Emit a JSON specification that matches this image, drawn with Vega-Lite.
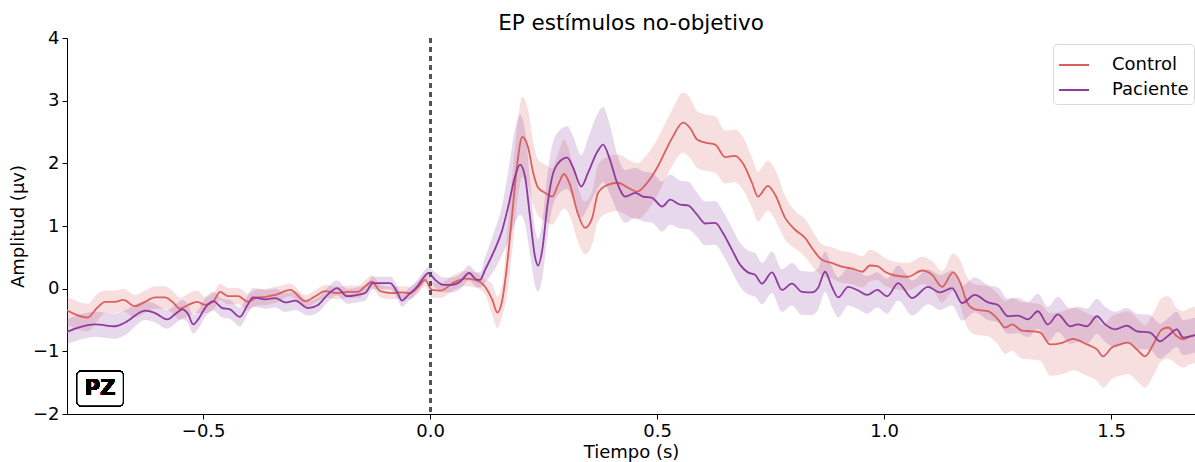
{
"$schema": "https://vega.github.io/schema/vega-lite/v6.json",
"width": 1128, "height": 376,
"autosize": {"type": "none"},
"padding": {"left": 67, "top": 38, "right": 0, "bottom": 48},
"title": {"text": "EP estímulos no-objetivo", "fontSize": 21.5, "fontWeight": "normal", "font": "DejaVu Sans", "color": "#000000", "offset": -5, "anchor": "middle"},
"config": {
 "view": {"stroke": null},
 "axis": {"domainColor": "#000000", "tickColor": "#000000", "labelColor": "#000000", "titleColor": "#000000", "labelFont": "DejaVu Sans", "titleFont": "DejaVu Sans", "labelFontSize": 18, "titleFontSize": 18, "titleFontWeight": "normal", "tickSize": 5, "grid": false, "domainWidth": 1, "tickWidth": 1, "labelPadding": 3}
},
"datasets": {"eeg": [
{"g":"Control","t":-0.804,"m":-0.33,"lo":-0.55,"hi":-0.11},
{"g":"Control","t":-0.782,"m":-0.41,"lo":-0.63,"hi":-0.19},
{"g":"Control","t":-0.755,"m":-0.46,"lo":-0.68,"hi":-0.24},
{"g":"Control","t":-0.733,"m":-0.30,"lo":-0.52,"hi":-0.08},
{"g":"Control","t":-0.716,"m":-0.21,"lo":-0.39,"hi":-0.03},
{"g":"Control","t":-0.694,"m":-0.21,"lo":-0.39,"hi":-0.03},
{"g":"Control","t":-0.676,"m":-0.18,"lo":-0.36,"hi":0.00},
{"g":"Control","t":-0.650,"m":-0.28,"lo":-0.46,"hi":-0.10},
{"g":"Control","t":-0.628,"m":-0.21,"lo":-0.39,"hi":-0.03},
{"g":"Control","t":-0.606,"m":-0.14,"lo":-0.32,"hi":0.04},
{"g":"Control","t":-0.584,"m":-0.14,"lo":-0.32,"hi":0.04},
{"g":"Control","t":-0.568,"m":-0.21,"lo":-0.39,"hi":-0.03},
{"g":"Control","t":-0.551,"m":-0.32,"lo":-0.50,"hi":-0.14},
{"g":"Control","t":-0.533,"m":-0.26,"lo":-0.44,"hi":-0.08},
{"g":"Control","t":-0.513,"m":-0.21,"lo":-0.39,"hi":-0.03},
{"g":"Control","t":-0.496,"m":-0.26,"lo":-0.39,"hi":-0.13},
{"g":"Control","t":-0.478,"m":-0.21,"lo":-0.34,"hi":-0.08},
{"g":"Control","t":-0.463,"m":-0.05,"lo":-0.18,"hi":0.08},
{"g":"Control","t":-0.445,"m":-0.12,"lo":-0.25,"hi":0.01},
{"g":"Control","t":-0.423,"m":-0.12,"lo":-0.25,"hi":0.01},
{"g":"Control","t":-0.401,"m":-0.21,"lo":-0.34,"hi":-0.08},
{"g":"Control","t":-0.381,"m":-0.14,"lo":-0.27,"hi":-0.01},
{"g":"Control","t":-0.363,"m":-0.13,"lo":-0.26,"hi":0.00},
{"g":"Control","t":-0.341,"m":-0.10,"lo":-0.23,"hi":0.03},
{"g":"Control","t":-0.308,"m":-0.02,"lo":-0.12,"hi":0.08},
{"g":"Control","t":-0.275,"m":-0.20,"lo":-0.30,"hi":-0.10},
{"g":"Control","t":-0.253,"m":-0.12,"lo":-0.22,"hi":-0.02},
{"g":"Control","t":-0.231,"m":-0.04,"lo":-0.14,"hi":0.06},
{"g":"Control","t":-0.205,"m":-0.07,"lo":-0.17,"hi":0.03},
{"g":"Control","t":-0.181,"m":-0.05,"lo":-0.15,"hi":0.05},
{"g":"Control","t":-0.159,"m":-0.05,"lo":-0.15,"hi":0.05},
{"g":"Control","t":-0.143,"m":0.04,"lo":-0.06,"hi":0.14},
{"g":"Control","t":-0.128,"m":0.11,"lo":0.01,"hi":0.21},
{"g":"Control","t":-0.110,"m":-0.04,"lo":-0.14,"hi":0.06},
{"g":"Control","t":-0.084,"m":-0.07,"lo":-0.17,"hi":0.03},
{"g":"Control","t":-0.062,"m":-0.06,"lo":-0.16,"hi":0.04},
{"g":"Control","t":-0.044,"m":-0.07,"lo":-0.17,"hi":0.03},
{"g":"Control","t":-0.026,"m":0.03,"lo":-0.07,"hi":0.13},
{"g":"Control","t":-0.011,"m":0.14,"lo":0.04,"hi":0.24},
{"g":"Control","t":0.004,"m":-0.02,"lo":-0.14,"hi":0.10},
{"g":"Control","t":0.022,"m":-0.03,"lo":-0.15,"hi":0.09},
{"g":"Control","t":0.055,"m":0.11,"lo":-0.01,"hi":0.23},
{"g":"Control","t":0.077,"m":0.16,"lo":0.04,"hi":0.28},
{"g":"Control","t":0.099,"m":0.14,"lo":0.02,"hi":0.26},
{"g":"Control","t":0.121,"m":0.03,"lo":-0.09,"hi":0.15},
{"g":"Control","t":0.137,"m":-0.18,"lo":-0.43,"hi":0.07},
{"g":"Control","t":0.148,"m":-0.38,"lo":-0.63,"hi":-0.13},
{"g":"Control","t":0.159,"m":-0.18,"lo":-0.43,"hi":0.07},
{"g":"Control","t":0.170,"m":0.41,"lo":-0.09,"hi":0.91},
{"g":"Control","t":0.181,"m":1.21,"lo":0.61,"hi":1.81},
{"g":"Control","t":0.192,"m":2.00,"lo":1.40,"hi":2.60},
{"g":"Control","t":0.203,"m":2.42,"lo":1.78,"hi":3.06},
{"g":"Control","t":0.216,"m":2.25,"lo":1.65,"hi":2.85},
{"g":"Control","t":0.227,"m":1.85,"lo":1.35,"hi":2.35},
{"g":"Control","t":0.238,"m":1.61,"lo":1.16,"hi":2.06},
{"g":"Control","t":0.253,"m":1.53,"lo":1.08,"hi":1.98},
{"g":"Control","t":0.269,"m":1.47,"lo":1.02,"hi":1.92},
{"g":"Control","t":0.282,"m":1.66,"lo":1.16,"hi":2.16},
{"g":"Control","t":0.295,"m":1.83,"lo":1.28,"hi":2.38},
{"g":"Control","t":0.308,"m":1.66,"lo":1.16,"hi":2.16},
{"g":"Control","t":0.324,"m":1.23,"lo":0.78,"hi":1.68},
{"g":"Control","t":0.341,"m":0.97,"lo":0.55,"hi":1.39},
{"g":"Control","t":0.357,"m":1.13,"lo":0.71,"hi":1.55},
{"g":"Control","t":0.370,"m":1.53,"lo":1.08,"hi":1.98},
{"g":"Control","t":0.392,"m":1.66,"lo":1.21,"hi":2.11},
{"g":"Control","t":0.414,"m":1.69,"lo":1.24,"hi":2.14},
{"g":"Control","t":0.436,"m":1.61,"lo":1.16,"hi":2.06},
{"g":"Control","t":0.456,"m":1.55,"lo":1.10,"hi":2.00},
{"g":"Control","t":0.478,"m":1.69,"lo":1.24,"hi":2.14},
{"g":"Control","t":0.500,"m":1.93,"lo":1.48,"hi":2.38},
{"g":"Control","t":0.522,"m":2.25,"lo":1.80,"hi":2.70},
{"g":"Control","t":0.535,"m":2.43,"lo":1.98,"hi":2.88},
{"g":"Control","t":0.557,"m":2.65,"lo":2.17,"hi":3.13},
{"g":"Control","t":0.573,"m":2.56,"lo":2.08,"hi":3.04},
{"g":"Control","t":0.588,"m":2.38,"lo":1.93,"hi":2.83},
{"g":"Control","t":0.606,"m":2.33,"lo":1.88,"hi":2.78},
{"g":"Control","t":0.628,"m":2.30,"lo":1.85,"hi":2.75},
{"g":"Control","t":0.650,"m":2.10,"lo":1.68,"hi":2.52},
{"g":"Control","t":0.672,"m":2.12,"lo":1.70,"hi":2.54},
{"g":"Control","t":0.689,"m":2.00,"lo":1.58,"hi":2.42},
{"g":"Control","t":0.709,"m":1.69,"lo":1.29,"hi":2.09},
{"g":"Control","t":0.722,"m":1.47,"lo":1.07,"hi":1.87},
{"g":"Control","t":0.744,"m":1.64,"lo":1.24,"hi":2.04},
{"g":"Control","t":0.760,"m":1.50,"lo":1.10,"hi":1.90},
{"g":"Control","t":0.782,"m":1.13,"lo":0.78,"hi":1.48},
{"g":"Control","t":0.804,"m":0.94,"lo":0.64,"hi":1.24},
{"g":"Control","t":0.826,"m":0.81,"lo":0.51,"hi":1.11},
{"g":"Control","t":0.844,"m":0.62,"lo":0.34,"hi":0.90},
{"g":"Control","t":0.863,"m":0.46,"lo":0.21,"hi":0.71},
{"g":"Control","t":0.885,"m":0.41,"lo":0.16,"hi":0.66},
{"g":"Control","t":0.907,"m":0.35,"lo":0.10,"hi":0.60},
{"g":"Control","t":0.930,"m":0.32,"lo":0.07,"hi":0.57},
{"g":"Control","t":0.952,"m":0.27,"lo":0.02,"hi":0.52},
{"g":"Control","t":0.969,"m":0.37,"lo":0.12,"hi":0.62},
{"g":"Control","t":0.985,"m":0.36,"lo":0.14,"hi":0.58},
{"g":"Control","t":1.002,"m":0.27,"lo":0.05,"hi":0.49},
{"g":"Control","t":1.024,"m":0.21,"lo":-0.01,"hi":0.43},
{"g":"Control","t":1.053,"m":0.19,"lo":-0.03,"hi":0.41},
{"g":"Control","t":1.084,"m":0.29,"lo":0.07,"hi":0.51},
{"g":"Control","t":1.106,"m":0.22,"lo":0.00,"hi":0.44},
{"g":"Control","t":1.128,"m":0.03,"lo":-0.22,"hi":0.28},
{"g":"Control","t":1.152,"m":0.26,"lo":-0.04,"hi":0.56},
{"g":"Control","t":1.167,"m":0.11,"lo":-0.24,"hi":0.46},
{"g":"Control","t":1.183,"m":-0.22,"lo":-0.62,"hi":0.18},
{"g":"Control","t":1.200,"m":-0.33,"lo":-0.73,"hi":0.07},
{"g":"Control","t":1.229,"m":-0.36,"lo":-0.76,"hi":0.04},
{"g":"Control","t":1.251,"m":-0.49,"lo":-0.89,"hi":-0.09},
{"g":"Control","t":1.267,"m":-0.62,"lo":-1.04,"hi":-0.20},
{"g":"Control","t":1.282,"m":-0.57,"lo":-0.99,"hi":-0.15},
{"g":"Control","t":1.304,"m":-0.67,"lo":-1.12,"hi":-0.22},
{"g":"Control","t":1.326,"m":-0.68,"lo":-1.13,"hi":-0.23},
{"g":"Control","t":1.344,"m":-0.70,"lo":-1.15,"hi":-0.25},
{"g":"Control","t":1.366,"m":-0.89,"lo":-1.39,"hi":-0.39},
{"g":"Control","t":1.394,"m":-0.86,"lo":-1.36,"hi":-0.36},
{"g":"Control","t":1.416,"m":-0.80,"lo":-1.30,"hi":-0.30},
{"g":"Control","t":1.447,"m":-0.89,"lo":-1.39,"hi":-0.39},
{"g":"Control","t":1.469,"m":-0.97,"lo":-1.47,"hi":-0.47},
{"g":"Control","t":1.482,"m":-1.08,"lo":-1.58,"hi":-0.58},
{"g":"Control","t":1.502,"m":-0.94,"lo":-1.44,"hi":-0.44},
{"g":"Control","t":1.520,"m":-0.89,"lo":-1.39,"hi":-0.39},
{"g":"Control","t":1.537,"m":-0.86,"lo":-1.36,"hi":-0.36},
{"g":"Control","t":1.557,"m":-0.97,"lo":-1.47,"hi":-0.47},
{"g":"Control","t":1.575,"m":-1.08,"lo":-1.58,"hi":-0.58},
{"g":"Control","t":1.593,"m":-0.89,"lo":-1.39,"hi":-0.39},
{"g":"Control","t":1.612,"m":-0.65,"lo":-1.15,"hi":-0.15},
{"g":"Control","t":1.626,"m":-0.62,"lo":-1.12,"hi":-0.12},
{"g":"Control","t":1.645,"m":-0.76,"lo":-1.21,"hi":-0.31},
{"g":"Control","t":1.659,"m":-0.81,"lo":-1.26,"hi":-0.36},
{"g":"Control","t":1.674,"m":-0.76,"lo":-1.21,"hi":-0.31},
{"g":"Control","t":1.685,"m":-0.74,"lo":-1.19,"hi":-0.29},
{"g":"Paciente","t":-0.804,"m":-0.70,"lo":-0.90,"hi":-0.50},
{"g":"Paciente","t":-0.775,"m":-0.62,"lo":-0.82,"hi":-0.42},
{"g":"Paciente","t":-0.738,"m":-0.57,"lo":-0.77,"hi":-0.37},
{"g":"Paciente","t":-0.694,"m":-0.60,"lo":-0.80,"hi":-0.40},
{"g":"Paciente","t":-0.672,"m":-0.54,"lo":-0.74,"hi":-0.34},
{"g":"Paciente","t":-0.628,"m":-0.35,"lo":-0.50,"hi":-0.20},
{"g":"Paciente","t":-0.606,"m":-0.39,"lo":-0.54,"hi":-0.24},
{"g":"Paciente","t":-0.579,"m":-0.49,"lo":-0.64,"hi":-0.34},
{"g":"Paciente","t":-0.562,"m":-0.41,"lo":-0.56,"hi":-0.26},
{"g":"Paciente","t":-0.546,"m":-0.33,"lo":-0.48,"hi":-0.18},
{"g":"Paciente","t":-0.533,"m":-0.41,"lo":-0.56,"hi":-0.26},
{"g":"Paciente","t":-0.522,"m":-0.57,"lo":-0.72,"hi":-0.42},
{"g":"Paciente","t":-0.511,"m":-0.49,"lo":-0.64,"hi":-0.34},
{"g":"Paciente","t":-0.496,"m":-0.31,"lo":-0.46,"hi":-0.16},
{"g":"Paciente","t":-0.478,"m":-0.20,"lo":-0.35,"hi":-0.05},
{"g":"Paciente","t":-0.458,"m":-0.31,"lo":-0.46,"hi":-0.16},
{"g":"Paciente","t":-0.441,"m":-0.33,"lo":-0.48,"hi":-0.18},
{"g":"Paciente","t":-0.419,"m":-0.45,"lo":-0.60,"hi":-0.30},
{"g":"Paciente","t":-0.403,"m":-0.27,"lo":-0.42,"hi":-0.12},
{"g":"Paciente","t":-0.390,"m":-0.14,"lo":-0.29,"hi":0.01},
{"g":"Paciente","t":-0.363,"m":-0.17,"lo":-0.32,"hi":-0.02},
{"g":"Paciente","t":-0.341,"m":-0.15,"lo":-0.30,"hi":0.00},
{"g":"Paciente","t":-0.319,"m":-0.22,"lo":-0.37,"hi":-0.07},
{"g":"Paciente","t":-0.297,"m":-0.19,"lo":-0.34,"hi":-0.04},
{"g":"Paciente","t":-0.269,"m":-0.31,"lo":-0.43,"hi":-0.19},
{"g":"Paciente","t":-0.247,"m":-0.26,"lo":-0.38,"hi":-0.14},
{"g":"Paciente","t":-0.225,"m":-0.09,"lo":-0.21,"hi":0.03},
{"g":"Paciente","t":-0.205,"m":0.01,"lo":-0.11,"hi":0.13},
{"g":"Paciente","t":-0.183,"m":-0.12,"lo":-0.24,"hi":0.00},
{"g":"Paciente","t":-0.161,"m":-0.10,"lo":-0.22,"hi":0.02},
{"g":"Paciente","t":-0.143,"m":-0.07,"lo":-0.19,"hi":0.05},
{"g":"Paciente","t":-0.126,"m":0.09,"lo":-0.01,"hi":0.19},
{"g":"Paciente","t":-0.106,"m":0.09,"lo":-0.01,"hi":0.19},
{"g":"Paciente","t":-0.088,"m":0.09,"lo":-0.01,"hi":0.19},
{"g":"Paciente","t":-0.073,"m":-0.05,"lo":-0.15,"hi":0.05},
{"g":"Paciente","t":-0.062,"m":-0.19,"lo":-0.29,"hi":-0.09},
{"g":"Paciente","t":-0.048,"m":-0.10,"lo":-0.20,"hi":0.00},
{"g":"Paciente","t":-0.029,"m":0.03,"lo":-0.07,"hi":0.13},
{"g":"Paciente","t":-0.015,"m":0.17,"lo":0.07,"hi":0.27},
{"g":"Paciente","t":-0.004,"m":0.25,"lo":0.15,"hi":0.35},
{"g":"Paciente","t":0.011,"m":0.14,"lo":0.02,"hi":0.26},
{"g":"Paciente","t":0.029,"m":0.06,"lo":-0.06,"hi":0.18},
{"g":"Paciente","t":0.048,"m":0.06,"lo":-0.06,"hi":0.18},
{"g":"Paciente","t":0.066,"m":0.11,"lo":-0.01,"hi":0.23},
{"g":"Paciente","t":0.086,"m":0.25,"lo":0.13,"hi":0.37},
{"g":"Paciente","t":0.101,"m":0.15,"lo":0.03,"hi":0.27},
{"g":"Paciente","t":0.110,"m":0.14,"lo":0.02,"hi":0.26},
{"g":"Paciente","t":0.121,"m":0.30,"lo":0.10,"hi":0.50},
{"g":"Paciente","t":0.139,"m":0.57,"lo":0.27,"hi":0.87},
{"g":"Paciente","t":0.159,"m":0.94,"lo":0.54,"hi":1.34},
{"g":"Paciente","t":0.172,"m":1.31,"lo":0.76,"hi":1.86},
{"g":"Paciente","t":0.187,"m":1.79,"lo":1.04,"hi":2.54},
{"g":"Paciente","t":0.198,"m":1.98,"lo":1.18,"hi":2.78},
{"g":"Paciente","t":0.209,"m":1.79,"lo":1.04,"hi":2.54},
{"g":"Paciente","t":0.220,"m":1.15,"lo":0.55,"hi":1.75},
{"g":"Paciente","t":0.231,"m":0.51,"lo":0.06,"hi":0.96},
{"g":"Paciente","t":0.238,"m":0.37,"lo":-0.05,"hi":0.79},
{"g":"Paciente","t":0.247,"m":0.62,"lo":0.17,"hi":1.07},
{"g":"Paciente","t":0.258,"m":1.31,"lo":0.81,"hi":1.81},
{"g":"Paciente","t":0.269,"m":1.79,"lo":1.29,"hi":2.29},
{"g":"Paciente","t":0.282,"m":2.00,"lo":1.50,"hi":2.50},
{"g":"Paciente","t":0.302,"m":2.09,"lo":1.59,"hi":2.59},
{"g":"Paciente","t":0.315,"m":1.93,"lo":1.43,"hi":2.43},
{"g":"Paciente","t":0.333,"m":1.63,"lo":1.13,"hi":2.13},
{"g":"Paciente","t":0.348,"m":1.85,"lo":1.30,"hi":2.40},
{"g":"Paciente","t":0.368,"m":2.18,"lo":1.58,"hi":2.78},
{"g":"Paciente","t":0.381,"m":2.30,"lo":1.70,"hi":2.90},
{"g":"Paciente","t":0.396,"m":2.06,"lo":1.51,"hi":2.61},
{"g":"Paciente","t":0.412,"m":1.69,"lo":1.24,"hi":2.14},
{"g":"Paciente","t":0.430,"m":1.47,"lo":1.05,"hi":1.89},
{"g":"Paciente","t":0.452,"m":1.53,"lo":1.13,"hi":1.93},
{"g":"Paciente","t":0.469,"m":1.47,"lo":1.07,"hi":1.87},
{"g":"Paciente","t":0.489,"m":1.45,"lo":1.05,"hi":1.85},
{"g":"Paciente","t":0.511,"m":1.31,"lo":0.91,"hi":1.71},
{"g":"Paciente","t":0.529,"m":1.42,"lo":1.02,"hi":1.82},
{"g":"Paciente","t":0.551,"m":1.34,"lo":0.96,"hi":1.72},
{"g":"Paciente","t":0.568,"m":1.33,"lo":0.95,"hi":1.71},
{"g":"Paciente","t":0.588,"m":1.18,"lo":0.83,"hi":1.53},
{"g":"Paciente","t":0.606,"m":1.04,"lo":0.69,"hi":1.39},
{"g":"Paciente","t":0.628,"m":1.05,"lo":0.70,"hi":1.40},
{"g":"Paciente","t":0.645,"m":0.89,"lo":0.54,"hi":1.24},
{"g":"Paciente","t":0.665,"m":0.62,"lo":0.27,"hi":0.97},
{"g":"Paciente","t":0.683,"m":0.38,"lo":0.03,"hi":0.73},
{"g":"Paciente","t":0.700,"m":0.26,"lo":-0.09,"hi":0.61},
{"g":"Paciente","t":0.716,"m":0.22,"lo":-0.13,"hi":0.57},
{"g":"Paciente","t":0.731,"m":0.08,"lo":-0.25,"hi":0.41},
{"g":"Paciente","t":0.753,"m":0.26,"lo":-0.07,"hi":0.59},
{"g":"Paciente","t":0.775,"m":-0.02,"lo":-0.37,"hi":0.31},
{"g":"Paciente","t":0.797,"m":0.08,"lo":-0.27,"hi":0.41},
{"g":"Paciente","t":0.819,"m":-0.05,"lo":-0.42,"hi":0.28},
{"g":"Paciente","t":0.841,"m":-0.06,"lo":-0.42,"hi":0.27},
{"g":"Paciente","t":0.855,"m":0.02,"lo":-0.33,"hi":0.33},
{"g":"Paciente","t":0.870,"m":0.27,"lo":-0.05,"hi":0.59},
{"g":"Paciente","t":0.885,"m":0.03,"lo":-0.29,"hi":0.35},
{"g":"Paciente","t":0.899,"m":-0.14,"lo":-0.46,"hi":0.18},
{"g":"Paciente","t":0.921,"m":0.03,"lo":-0.27,"hi":0.33},
{"g":"Paciente","t":0.943,"m":-0.03,"lo":-0.33,"hi":0.27},
{"g":"Paciente","t":0.963,"m":-0.10,"lo":-0.40,"hi":0.20},
{"g":"Paciente","t":0.985,"m":-0.02,"lo":-0.30,"hi":0.26},
{"g":"Paciente","t":1.007,"m":-0.12,"lo":-0.40,"hi":0.16},
{"g":"Paciente","t":1.031,"m":0.09,"lo":-0.19,"hi":0.37},
{"g":"Paciente","t":1.062,"m":-0.15,"lo":-0.43,"hi":0.13},
{"g":"Paciente","t":1.097,"m":0.03,"lo":-0.25,"hi":0.31},
{"g":"Paciente","t":1.123,"m":-0.06,"lo":-0.34,"hi":0.22},
{"g":"Paciente","t":1.150,"m":0.01,"lo":-0.27,"hi":0.29},
{"g":"Paciente","t":1.172,"m":-0.23,"lo":-0.51,"hi":0.05},
{"g":"Paciente","t":1.200,"m":-0.10,"lo":-0.38,"hi":0.18},
{"g":"Paciente","t":1.229,"m":-0.22,"lo":-0.50,"hi":0.06},
{"g":"Paciente","t":1.251,"m":-0.26,"lo":-0.54,"hi":0.02},
{"g":"Paciente","t":1.273,"m":-0.44,"lo":-0.72,"hi":-0.16},
{"g":"Paciente","t":1.295,"m":-0.43,"lo":-0.71,"hi":-0.15},
{"g":"Paciente","t":1.317,"m":-0.49,"lo":-0.77,"hi":-0.21},
{"g":"Paciente","t":1.339,"m":-0.36,"lo":-0.64,"hi":-0.08},
{"g":"Paciente","t":1.361,"m":-0.57,"lo":-0.85,"hi":-0.29},
{"g":"Paciente","t":1.383,"m":-0.41,"lo":-0.69,"hi":-0.13},
{"g":"Paciente","t":1.410,"m":-0.60,"lo":-0.88,"hi":-0.32},
{"g":"Paciente","t":1.427,"m":-0.57,"lo":-0.85,"hi":-0.29},
{"g":"Paciente","t":1.447,"m":-0.60,"lo":-0.88,"hi":-0.32},
{"g":"Paciente","t":1.469,"m":-0.44,"lo":-0.72,"hi":-0.16},
{"g":"Paciente","t":1.487,"m":-0.57,"lo":-0.85,"hi":-0.29},
{"g":"Paciente","t":1.509,"m":-0.65,"lo":-0.93,"hi":-0.37},
{"g":"Paciente","t":1.535,"m":-0.59,"lo":-0.87,"hi":-0.31},
{"g":"Paciente","t":1.557,"m":-0.68,"lo":-0.96,"hi":-0.40},
{"g":"Paciente","t":1.586,"m":-0.70,"lo":-0.98,"hi":-0.42},
{"g":"Paciente","t":1.608,"m":-0.84,"lo":-1.12,"hi":-0.56},
{"g":"Paciente","t":1.626,"m":-0.75,"lo":-1.03,"hi":-0.47},
{"g":"Paciente","t":1.645,"m":-0.65,"lo":-0.93,"hi":-0.37},
{"g":"Paciente","t":1.659,"m":-0.78,"lo":-1.06,"hi":-0.50},
{"g":"Paciente","t":1.685,"m":-0.74,"lo":-1.02,"hi":-0.46}
]},
"data": {"name": "eeg"},
"layer": [
 {"mark": {"type": "area", "fillOpacity": 0.2, "interpolate": "monotone", "clip": true},
  "encoding": {
   "x": {"field": "t", "type": "quantitative", "scale": {"domain": [-0.8, 1.685], "nice": false, "zero": false}, "title": "Tiempo (s)", "axis": {"values": [-0.5, 0, 0.5, 1, 1.5], "labelExpr": "replace(format(datum.value, '.1f'), '-', '−')", "titlePadding": 3}},
   "y": {"field": "lo", "type": "quantitative", "stack": null, "scale": {"domain": [-2, 4], "nice": false, "zero": false}, "title": "Amplitud (µv)", "axis": {"values": [-2, -1, 0, 1, 2, 3, 4], "labelExpr": "replace(format(datum.value, 'd'), '-', '−')", "titlePadding": 5}},
   "y2": {"field": "hi"},
   "color": {"field": "g", "type": "nominal", "scale": {"domain": ["Control", "Paciente"], "range": ["#d9605f", "#8e3b9e"]},
     "legend": {"title": null, "orient": "none", "legendX": 986, "legendY": 6, "symbolType": "stroke", "symbolSize": 900, "symbolStrokeWidth": 2, "symbolOpacity": 1, "symbolFillColor": "transparent", "labelFontSize": 18, "labelFont": "DejaVu Sans", "labelColor": "#000000", "labelOffset": 22, "padding": 5, "strokeColor": "#d9d9d9", "cornerRadius": 4, "fillColor": "#ffffff", "rowPadding": -2}}
  }},
 {"mark": {"type": "line", "strokeWidth": 1.8, "interpolate": "monotone", "clip": true},
  "encoding": {
   "x": {"field": "t", "type": "quantitative"},
   "y": {"field": "m", "type": "quantitative"},
   "color": {"field": "g", "type": "nominal"}
  }},
 {"mark": {"type": "rule", "color": "#555555", "strokeWidth": 2, "strokeDash": [5, 4]},
  "encoding": {"x": {"datum": 0, "type": "quantitative"}}},
 {"mark": {"type": "rect", "fill": "#ffffff", "stroke": "#000000", "strokeWidth": 1.2, "cornerRadius": 4},
  "encoding": {"x": {"datum": -0.778, "type": "quantitative"}, "x2": {"datum": -0.676}, "y": {"datum": -1.32, "type": "quantitative"}, "y2": {"datum": -1.87}}},
 {"mark": {"type": "text", "text": "PZ", "fontSize": 21, "fontWeight": "bold", "font": "DejaVu Sans", "color": "#000000", "align": "center", "baseline": "middle"},
  "encoding": {"x": {"datum": -0.727, "type": "quantitative"}, "y": {"datum": -1.595, "type": "quantitative"}}}
]
}
